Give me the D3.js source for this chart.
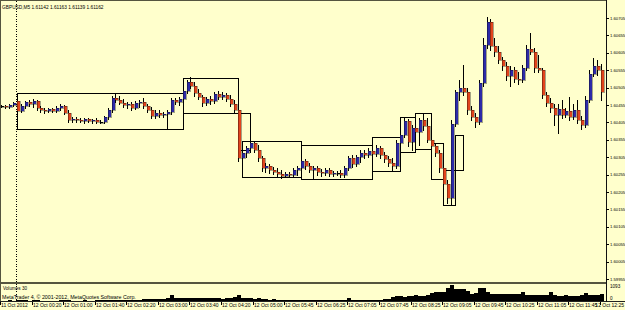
<!DOCTYPE html>
<html><head><meta charset="utf-8">
<script src="https://cdn.jsdelivr.net/npm/d3@7"></script>
<style>html,body{margin:0;padding:0;background:#ffffcc;overflow:hidden}svg{display:block}</style>
</head><body>
<svg id="c" width="625" height="310"></svg>
<script>
// ---- DATA (GBPUSD, M5, 11 Oct 23:40 -> 12 Oct 12:25) ----
const open = [
1.60453,1.60453,1.60450,1.60456,1.60467,1.60438,1.60453,1.60464,1.60459,1.60467,
1.60447,1.60441,1.60438,1.60444,1.60438,1.60447,1.60453,1.60433,1.60413,1.60415,
1.60413,1.60410,1.60415,1.60410,1.60413,1.60407,1.60407,1.60421,1.60441,1.60476,
1.60470,1.60461,1.60456,1.60459,1.60447,1.60461,1.60464,1.60453,1.60441,1.60424,
1.60433,1.60427,1.60430,1.60436,1.60470,1.60464,1.60473,1.60496,1.60522,1.60510,
1.60490,1.60479,1.60461,1.60473,1.60467,1.60487,1.60479,1.60484,1.60473,1.60459,
1.60441,1.60304,1.60318,1.60332,1.60347,1.60326,1.60304,1.60275,1.60281,1.60269,
1.60263,1.60258,1.60252,1.60258,1.60255,1.60269,1.60275,1.60295,1.60281,1.60269,
1.60275,1.60263,1.60261,1.60269,1.60258,1.60261,1.60261,1.60255,1.60275,1.60304,
1.60286,1.60306,1.60318,1.60312,1.60324,1.60315,1.60332,1.60312,1.60301,1.60289,
1.60281,1.60347,1.60369,1.60410,1.60349,1.60390,1.60378,1.60413,1.60395,1.60355,
1.60338,1.60318,1.60275,1.60229,1.60189,1.60401,1.60493,1.60504,1.60493,1.60441,
1.60421,1.60407,1.60519,1.60628,1.60694,1.60625,1.60608,1.60585,1.60568,1.60539,
1.60556,1.60530,1.60527,1.60562,1.60616,1.60608,1.60562,1.60556,1.60484,1.60461,
1.60447,1.60427,1.60444,1.60427,1.60438,1.60421,1.60441,1.60413,1.60398,1.60470,
1.60545,1.60568,1.60556];
const high = [
1.60456,1.60456,1.60459,1.60464,1.60473,1.60459,1.60467,1.60470,1.60473,1.60470,
1.60453,1.60447,1.60447,1.60447,1.60453,1.60459,1.60456,1.60441,1.60421,1.60421,
1.60418,1.60418,1.60418,1.60415,1.60418,1.60413,1.60424,1.60447,1.60481,1.60487,
1.60481,1.60473,1.60464,1.60464,1.60467,1.60470,1.60476,1.60459,1.60450,1.60441,
1.60441,1.60436,1.60441,1.60476,1.60476,1.60479,1.60502,1.60527,1.60536,1.60522,
1.60502,1.60484,1.60479,1.60481,1.60493,1.60496,1.60493,1.60490,1.60484,1.60470,
1.60447,1.60326,1.60338,1.60355,1.60352,1.60341,1.60309,1.60289,1.60286,1.60278,
1.60275,1.60269,1.60263,1.60263,1.60275,1.60281,1.60304,1.60301,1.60289,1.60281,
1.60281,1.60272,1.60275,1.60275,1.60266,1.60266,1.60269,1.60281,1.60309,1.60312,
1.60312,1.60326,1.60326,1.60332,1.60335,1.60341,1.60338,1.60321,1.60309,1.60304,
1.60355,1.60378,1.60418,1.60415,1.60398,1.60418,1.60418,1.60430,1.60418,1.60364,
1.60347,1.60326,1.60283,1.60240,1.60413,1.60499,1.60527,1.60570,1.60504,1.60453,
1.60433,1.60527,1.60648,1.60708,1.60702,1.60648,1.60625,1.60593,1.60579,1.60568,
1.60565,1.60550,1.60570,1.60628,1.60662,1.60619,1.60599,1.60562,1.60493,1.60476,
1.60459,1.60459,1.60470,1.60447,1.60479,1.60459,1.60470,1.60424,1.60481,1.60556,
1.60591,1.60585,1.60573];
const low = [
1.60450,1.60447,1.60447,1.60453,1.60436,1.60436,1.60447,1.60453,1.60450,1.60441,
1.60436,1.60433,1.60436,1.60436,1.60436,1.60441,1.60430,1.60407,1.60407,1.60407,
1.60407,1.60404,1.60407,1.60404,1.60404,1.60404,1.60404,1.60415,1.60436,1.60464,
1.60459,1.60450,1.60447,1.60441,1.60444,1.60450,1.60447,1.60436,1.60418,1.60418,
1.60421,1.60421,1.60387,1.60430,1.60459,1.60456,1.60467,1.60490,1.60504,1.60481,
1.60473,1.60453,1.60456,1.60459,1.60461,1.60473,1.60473,1.60467,1.60453,1.60433,
1.60295,1.60289,1.60306,1.60321,1.60321,1.60295,1.60266,1.60263,1.60261,1.60258,
1.60249,1.60246,1.60249,1.60252,1.60249,1.60255,1.60266,1.60272,1.60263,1.60246,
1.60255,1.60252,1.60255,1.60252,1.60252,1.60255,1.60249,1.60249,1.60269,1.60278,
1.60281,1.60292,1.60304,1.60306,1.60304,1.60309,1.60304,1.60292,1.60281,1.60266,
1.60275,1.60332,1.60364,1.60338,1.60326,1.60355,1.60341,1.60384,1.60349,1.60332,
1.60309,1.60263,1.60220,1.60172,1.60169,1.60395,1.60470,1.60484,1.60430,1.60413,
1.60392,1.60401,1.60510,1.60619,1.60613,1.60596,1.60576,1.60556,1.60527,1.60510,
1.60522,1.60516,1.60522,1.60556,1.60602,1.60550,1.60550,1.60476,1.60453,1.60436,
1.60398,1.60375,1.60418,1.60421,1.60413,1.60415,1.60404,1.60387,1.60392,1.60464,
1.60539,1.60542,1.60470];
const close = [
1.60453,1.60450,1.60456,1.60461,1.60438,1.60453,1.60464,1.60459,1.60467,1.60447,
1.60441,1.60438,1.60444,1.60438,1.60447,1.60453,1.60433,1.60413,1.60415,1.60413,
1.60410,1.60415,1.60410,1.60413,1.60407,1.60407,1.60421,1.60441,1.60476,1.60470,
1.60461,1.60456,1.60459,1.60447,1.60461,1.60464,1.60453,1.60441,1.60424,1.60433,
1.60427,1.60430,1.60436,1.60470,1.60464,1.60473,1.60496,1.60522,1.60510,1.60490,
1.60479,1.60461,1.60473,1.60467,1.60487,1.60479,1.60484,1.60473,1.60459,1.60441,
1.60304,1.60318,1.60332,1.60347,1.60326,1.60304,1.60275,1.60281,1.60269,1.60263,
1.60258,1.60252,1.60258,1.60255,1.60269,1.60275,1.60295,1.60281,1.60269,1.60275,
1.60263,1.60261,1.60269,1.60258,1.60261,1.60261,1.60255,1.60275,1.60304,1.60286,
1.60306,1.60318,1.60312,1.60324,1.60315,1.60332,1.60312,1.60301,1.60289,1.60281,
1.60347,1.60369,1.60410,1.60349,1.60390,1.60378,1.60413,1.60395,1.60355,1.60338,
1.60318,1.60275,1.60229,1.60189,1.60401,1.60493,1.60504,1.60493,1.60441,1.60421,
1.60407,1.60519,1.60628,1.60694,1.60625,1.60608,1.60585,1.60568,1.60539,1.60556,
1.60530,1.60527,1.60562,1.60616,1.60608,1.60562,1.60556,1.60484,1.60461,1.60447,
1.60427,1.60444,1.60427,1.60438,1.60421,1.60441,1.60413,1.60398,1.60470,1.60545,
1.60568,1.60556,1.60493];
const volume = [
30,20,40,30,60,50,40,30,40,50,30,20,30,20,30,40,50,60,30,20,30,40,30,20,40,
50,
60,90,80,70,60,70,60,80,70,60,
130,150,120,140,130,160,180,
380,
200,190,220,180,200,210,190,180,200,190,
200,190,170,200,220,
260,390,
200,190,180,170,190,160,
120,100,110,90,80,100,90,70,60,80,70,90,60,70,80,60,70,60,
70,80,100,220,
90,80,70,100,90,80,100,90,110,120,
300,310,320,300,330,
360,380,350,370,400,
580,600,620,640,
900,1093,
820,800,790,680,500,520,860,870,620,
500,480,510,
460,470,450,490,460,620,
430,420,440,430,410,440,620,
380,370,360,380,350,370,360,400,560,
430,440,420,500];
const priceTicks = [1.59955,1.60005,1.60055,1.60105,1.60155,1.60205,1.60255,1.60305,
                    1.60355,1.60405,1.60455,1.60505,1.60555,1.60605,1.60655,1.60705];
const timeLabels = ["11 Oct 2012","12 Oct 00:20","12 Oct 01:00","12 Oct 01:40","12 Oct 02:20",
  "12 Oct 03:00","12 Oct 03:40","12 Oct 04:20","12 Oct 05:00","12 Oct 05:45","12 Oct 06:25",
  "12 Oct 07:05","12 Oct 07:45","12 Oct 08:25","12 Oct 09:05","12 Oct 09:45","12 Oct 10:25",
  "12 Oct 11:05","12 Oct 11:45","12 Oct 12:25"];
const timeLabelBars = [0,8,16,24,32,40,48,56,64,72,80,88,96,104,112,120,128,136,144,152];
const daySeparatorBar = 4;            // 12 Oct 00:00
const boxStart = [4,46,60,61,76,94,101,105,109,112,115];
const boxEnd   = [46,60,63,76,94,101,105,109,112,115,117];
const boxHigh  = [1.60490,1.60533,1.60433,1.60352,1.60341,1.60364,1.60421,1.60433,1.60347,1.60269,1.60370];
const boxLow   = [1.60387,1.60433,1.60327,1.60249,1.60243,1.60266,1.60321,1.60329,1.60243,1.60169,1.60269];
const volumeMax = 1093;
const headerText = "GBPUSD,M5  1.61142 1.61163 1.61139 1.61162";

// ---- CHART ----
const svg = d3.select("#c");
const W = 625, H = 310, plotR = 606;
const font = "'Liberation Sans', Arial, sans-serif";
svg.append("rect").attr("width", W).attr("height", H).attr("fill", "#ffffcc");

const n = open.length;
const x = d3.scaleLinear().domain([0, 152]).range([2, 602]);
const y = d3.scaleLinear().domain([1.59955, 1.60705]).range([279, 18]);
const yv = d3.scaleLinear().domain([0, volumeMax]).range([301, 285]);

// frame lines
const frame = svg.append("g").attr("shape-rendering", "crispEdges");
frame.append("line").attr("x1", 0.5).attr("x2", 0.5).attr("y1", 0).attr("y2", 302).attr("stroke", "#55553f");
frame.append("line").attr("x1", 0).attr("x2", plotR).attr("y1", 0.5).attr("y2", 0.5).attr("stroke", "#55553f");
frame.append("line").attr("x1", 0).attr("x2", plotR).attr("y1", 283).attr("y2", 283).attr("stroke", "#55553f").attr("stroke-width", 2);
frame.append("line").attr("x1", 0).attr("x2", W).attr("y1", 301.5).attr("y2", 301.5).attr("stroke", "#222");
frame.append("line").attr("x1", plotR + 0.5).attr("x2", plotR + 0.5).attr("y1", 0).attr("y2", 302).attr("stroke", "#111");

// header
svg.append("text").attr("x", 2).attr("y", 9).attr("font-family", font).attr("font-size", 4.8)
  .attr("fill", "#000").text(headerText);

// day separator
svg.append("line").attr("x1", Math.round(x(daySeparatorBar)) - 1.5).attr("x2", Math.round(x(daySeparatorBar)) - 1.5)
  .attr("y1", 1).attr("y2", 301).attr("stroke", "#000").attr("stroke-dasharray", "1,1.5")
  .attr("shape-rendering", "crispEdges");

// boxes
const boxes = boxStart.map((s, i) => ({s, e: boxEnd[i], hi: boxHigh[i], lo: boxLow[i]}));
svg.append("g").attr("shape-rendering", "crispEdges").selectAll("rect").data(boxes).join("rect")
  .attr("x", d => Math.round(x(d.s)) - 0.5)
  .attr("y", d => Math.round(y(d.hi)) + 0.5)
  .attr("width", d => Math.round(x(d.e)) - Math.round(x(d.s)))
  .attr("height", d => Math.round(y(d.lo)) - Math.round(y(d.hi)))
  .attr("fill", "none").attr("stroke", "#000").attr("stroke-width", 1);

// candles
const bars = d3.range(n).map(i => ({i, o: open[i], h: high[i], l: low[i], c: close[i], v: volume[i]}));
const cg = svg.append("g").attr("shape-rendering", "crispEdges");
const cand = cg.selectAll("g").data(bars).join("g");
cand.append("line")
  .attr("x1", d => Math.round(x(d.i)) - 0.5).attr("x2", d => Math.round(x(d.i)) - 0.5)
  .attr("y1", d => Math.round(y(d.h))).attr("y2", d => Math.round(y(d.l)) + 1)
  .attr("stroke", "#000").attr("stroke-width", 1);
cand.append("rect")
  .attr("x", d => Math.round(x(d.i)) - 1)
  .attr("y", d => Math.round(y(Math.max(d.o, d.c))))
  .attr("width", 3)
  .attr("height", d => Math.max(1, Math.round(Math.abs(y(d.o) - y(d.c)))))
  .attr("fill", d => d.c > d.o ? "#2d2aa8" : (d.c < d.o ? "#e2441c" : "#000"))
  .attr("stroke", "#000").attr("stroke-width", 0.35);

// price axis
const pa = svg.append("g");
pa.selectAll("line").data(priceTicks).join("line").attr("shape-rendering", "crispEdges")
  .attr("x1", plotR).attr("x2", plotR + 3)
  .attr("y1", d => Math.round(y(d)) + 0.5).attr("y2", d => Math.round(y(d)) + 0.5).attr("stroke", "#000");
pa.selectAll("text").data(priceTicks).join("text")
  .attr("x", plotR + 4).attr("y", d => y(d) + 1.6)
  .attr("font-family", font).attr("font-size", 4.2).attr("fill", "#000")
  .text(d => d3.format(".5f")(d));

// volume subwindow
svg.append("text").attr("x", 3).attr("y", 289.5).attr("font-family", font).attr("font-size", 4.6)
  .attr("fill", "#000").text("Volumes 30");
svg.append("text").attr("x", 2).attr("y", 298.5).attr("font-family", font).attr("font-size", 5.3)
  .attr("fill", "#000").text("MetaTrader 4, © 2001-2012, MetaQuotes Software Corp.");
svg.append("g").attr("shape-rendering", "crispEdges").selectAll("rect").data(bars).join("rect")
  .attr("x", d => Math.round(x(d.i)) - 2)
  .attr("y", d => yv(d.v))
  .attr("width", 4)
  .attr("height", d => yv(0) - yv(d.v))
  .attr("fill", "#000");
svg.append("text").attr("x", plotR + 4).attr("y", yv(volumeMax) + 2.5).attr("font-family", font)
  .attr("font-size", 4.6).attr("fill", "#000").text(String(volumeMax));
svg.append("text").attr("x", plotR + 4).attr("y", yv(0) - 1).attr("font-family", font)
  .attr("font-size", 4.6).attr("fill", "#000").text("0");

// time axis
const ta = svg.append("g");
const lastLbl = timeLabelBars.length - 1;
ta.selectAll("line").data(timeLabelBars).join("line").attr("shape-rendering", "crispEdges")
  .attr("x1", d => Math.round(x(d)) - 1.5).attr("x2", d => Math.round(x(d)) - 1.5)
  .attr("y1", 302).attr("y2", 305).attr("stroke", "#000");
ta.selectAll("text").data(timeLabelBars).join("text")
  .attr("x", (d, i) => i === lastLbl ? W - 1 : Math.round(x(d)) - 1).attr("y", 307)
  .attr("text-anchor", (d, i) => i === lastLbl ? "end" : "start")
  .attr("font-family", font).attr("font-size", 5).attr("fill", "#000")
  .text((d, i) => timeLabels[i]);
</script>
</body></html>
